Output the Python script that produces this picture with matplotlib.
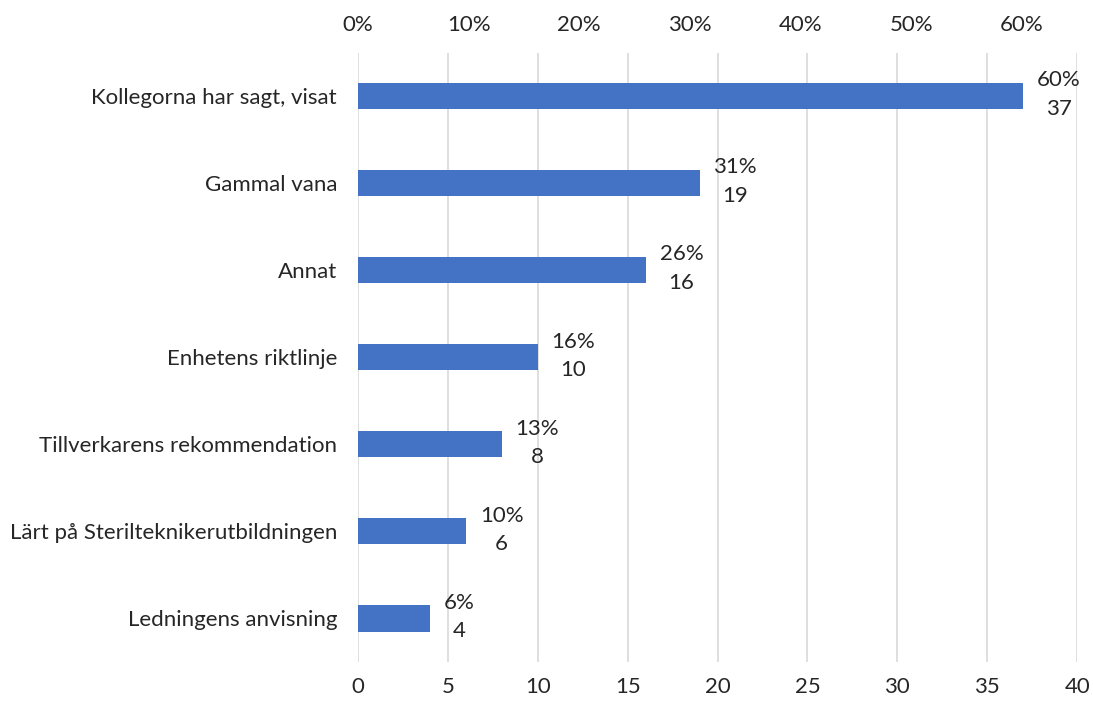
import matplotlib.pyplot as plt
import numpy as np

plt.rcParams['font.family'] = ['Lato', 'DejaVu Sans']

categories = ['Kollegorna har sagt, visat', 'Gammal vana', 'Annat',
              'Enhetens riktlinje', 'Tillverkarens rekommendation',
              'Lärt på Sterilteknikerutbildningen', 'Ledningens anvisning']
counts = [37, 19, 16, 10, 8, 6, 4]
percents = [60, 31, 26, 16, 13, 10, 6]
count_ticks = [0, 5, 10, 15, 20, 25, 30, 35, 40]
pct_ticks = [0, 10, 20, 30, 40, 50, 60]

fig = plt.figure(figsize=(10.93, 7.02), dpi=100)
ax = fig.add_axes([0.3275, 0.057, 0.658, 0.868])

y_pos = np.arange(len(categories))
ax.barh(y_pos, counts, height=0.3, color='#4472C4', zorder=3)
ax.set_yticks(y_pos)
ax.set_yticklabels(categories)
ax.set_ylim(len(categories) - 0.5, -0.5)
ax.set_xlim(0, 40)
ax.set_xticks(count_ticks)
ax.grid(axis='x', color='#d9d9d9', linewidth=1.2, zorder=0)
for s in ax.spines.values():
    s.set_visible(False)
ax.tick_params(axis='both', length=0, labelsize=16, colors='#262626')
ax.tick_params(axis='y', pad=15)
ax.tick_params(axis='x', pad=11)

for y, c, p in zip(y_pos, counts, percents):
    ax.annotate(f'{p}%\n{c}', (c, y), xytext=(10, 1), textcoords='offset points',
                ha='left', va='center', multialignment='center',
                fontsize=16, color='#262626', linespacing=1.55)

ax2 = ax.twiny()
ax2.set_xlim(0, 65)
ax2.set_xticks(pct_ticks)
ax2.set_xticklabels([f'{t}%' for t in pct_ticks])
for s in ax2.spines.values():
    s.set_visible(False)
ax2.tick_params(axis='x', length=0, labelsize=16, colors='#262626', pad=13)

fig.savefig('out.png', dpi=100)
